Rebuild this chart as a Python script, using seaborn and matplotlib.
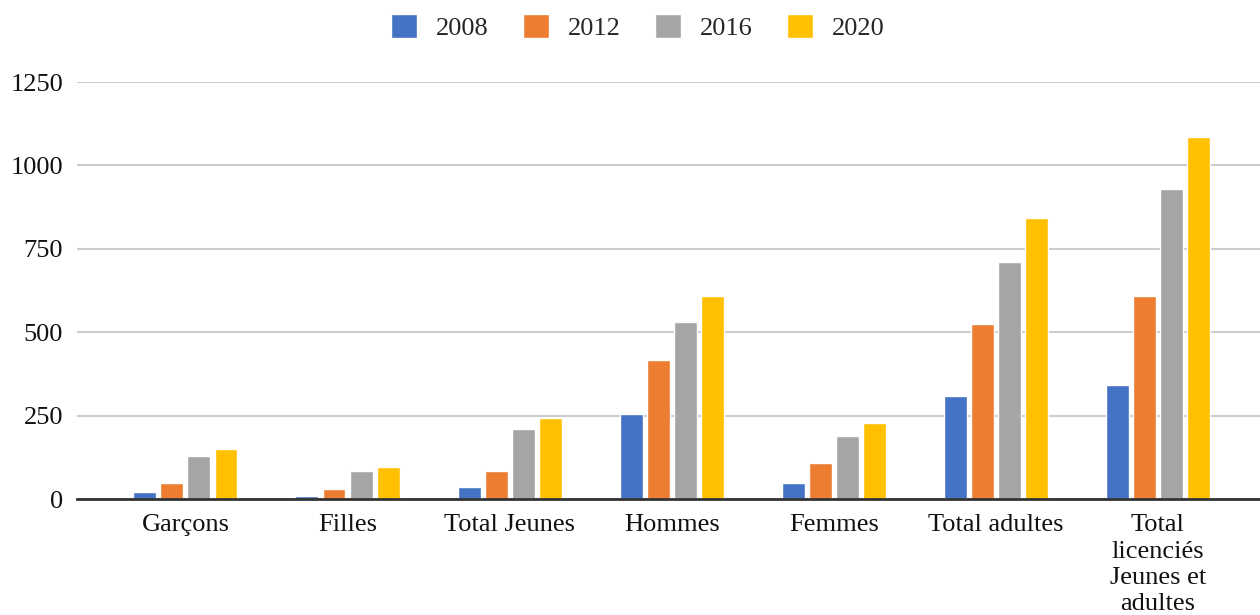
import pandas as pd
import seaborn as sns
import matplotlib.pyplot as plt

# Values
categories = ["Garçons", "Filles", "Total Jeunes", "Hommes", "Femmes",
              "Total adultes", "Total\nlicenciés\nJeunes et\nadultes"]
years = ["2008", "2012", "2016", "2020"]
v2008 = [22, 9, 35, 256, 49, 309, 342]
v2012 = [49, 29, 83, 416, 109, 524, 610]
v2016 = [129, 83, 209, 530, 189, 710, 929]
v2020 = [149, 96, 242, 609, 229, 843, 1084]
colors = ["#4472C4", "#ED7D31", "#A5A5A5", "#FFC000"]

rows = []
for year, vals in zip(years, [v2008, v2012, v2016, v2020]):
    for cat, v in zip(categories, vals):
        rows.append({"categorie": cat, "annee": year, "valeur": v})
df = pd.DataFrame(rows)

sns.set_style("white")
plt.rcParams["font.family"] = ["Liberation Serif", "DejaVu Serif"]

fig = plt.figure(figsize=(12.6, 6.15), dpi=100)
ax = fig.add_axes([0.061, 0.1886, 0.939, 0.678])

sns.barplot(data=df, x="categorie", y="valeur", hue="annee", order=categories,
            hue_order=years, palette=colors, width=0.667, gap=0.15,
            saturation=1, ax=ax, legend=True)

ax.set_ylim(0, 1250)
ax.set_xlim(-0.67, 6.63)
ax.set_yticks([0, 250, 500, 750, 1000, 1250])
ax.yaxis.grid(True, color="#cccccc", linewidth=1.5)
ax.set_axisbelow(True)
for s in ["left", "right", "top"]:
    ax.spines[s].set_visible(False)
ax.spines["bottom"].set_color("#333333")
ax.spines["bottom"].set_linewidth(2)
ax.tick_params(axis="both", length=0, labelsize=19, colors="#111111")
ax.tick_params(axis="y", pad=10)
ax.tick_params(axis="x", pad=11)
for lbl in ax.get_xticklabels():
    lbl.set_linespacing(1.25)
ax.set_xlabel("")
ax.set_ylabel("")

handles, labels = ax.get_legend_handles_labels()
ax.get_legend().remove()
fig.legend(handles, labels, loc="center", bbox_to_anchor=(0.506, 0.956), ncol=4,
           frameon=False, fontsize=19, handlelength=1.0, handleheight=1.0,
           columnspacing=1.3, handletextpad=0.7)

plt.savefig("out.png", dpi=100)
plt.close()
